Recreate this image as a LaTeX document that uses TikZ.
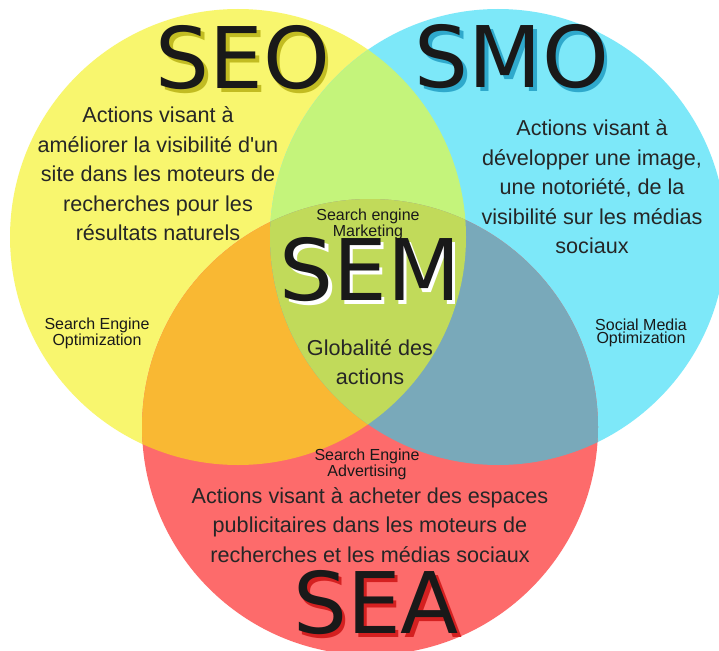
\documentclass[tikz,border=0pt]{standalone}
\usepackage{fontspec}
\setmainfont{Liberation Sans}[Ligatures=TeXOff]
\newfontfamily\sketchfont{DejaVu Sans}
\usetikzlibrary{calc,positioning}

%% circle colours and their overlaps
\definecolor{seoyellow}{HTML}{F8F66E}
\definecolor{smoblue}{HTML}{7DE8F9}
\definecolor{seared}{HTML}{FD6B6B}
\definecolor{seosmo}{HTML}{C4F47B}
\definecolor{seosea}{HTML}{F9B833}
\definecolor{smosea}{HTML}{79A9BA}
\definecolor{semgreen}{HTML}{C1DA5A}
%% shadows behind the big titles
\definecolor{seoshade}{HTML}{C2BC22}
\definecolor{smoshade}{HTML}{2FA9CC}
\definecolor{semshade}{HTML}{FFFFFF}
\definecolor{seashade}{HTML}{D42020}

\tikzset{
  vennbody/.style={font=\fontsize{21.6}{29.5}\selectfont, align=center,
    text=black!85},
  vennsub/.style={font=\fontsize{16}{13.5}\selectfont, align=center,
    text=black!90, inner sep=0pt},
  venntitle/.style={font=\sketchfont\fontsize{85}{85}\selectfont,
    text=black!90, inner sep=0pt},
}
\newcommand{\venntitle}[4]{%
  \node[venntitle, text=#3] at ($(#2)+(3.5,3.5)$) {#4};
  \node[venntitle] (#1) at (#2) {#4};
}

\begin{document}
\begin{tikzpicture}[x=1pt, y=-1pt]
\useasboundingbox (0,0) rectangle (719,650);
\fill[white] (0,0) rectangle (719,650);
\clip (0,0) rectangle (719,650);

\coordinate (cseo) at (238,237);
\coordinate (csmo) at (498,237);
\coordinate (csea) at (370,427);

%% the three discs
\fill[seoyellow] (cseo) circle[radius=228];
\fill[smoblue]   (csmo) circle[radius=228];
\fill[seared]    (csea) circle[radius=228];

%% overlaps
\begin{scope}
  \clip (cseo) circle[radius=228];
  \fill[seosmo] (csmo) circle[radius=228];
  \fill[seosea] (csea) circle[radius=228];
\end{scope}
\begin{scope}
  \clip (csmo) circle[radius=228];
  \fill[smosea] (csea) circle[radius=228];
\end{scope}
\begin{scope}
  \clip (cseo) circle[radius=228];
  \clip (csmo) circle[radius=228];
  \fill[semgreen] (csea) circle[radius=228];
\end{scope}

%% titles
\venntitle{seo}{243,58}{seoshade}{SEO}
\venntitle{smo}{512,57}{smoshade}{SMO}
\venntitle{sem}{370,270}{semshade}{SEM}
\venntitle{sea}{376,603}{seashade}{SEA}

%% descriptions
\node[vennbody] (seotxt) at (158,174) {Actions visant à\\améliorer la visibilité d'un\\site dans les moteurs de\\recherches pour les\\résultats naturels};
\node[vennbody] (smotxt) at (592,187) {Actions visant à\\développer une image,\\une notoriété, de la\\visibilité sur les médias\\sociaux};
\node[vennbody] (seatxt) at (370,525) {Actions visant à acheter des espaces\\publicitaires dans les moteurs de\\recherches et les médias sociaux};
\node[vennbody] (semtxt) at (370,362) {Globalité des\\actions};

%% full names
\node[vennsub] (seoname) at (97,333)  {Search Engine\\Optimization};
\node[vennsub] (smoname) at (641,333) {Social Media\\Optimization};
\node[vennsub] (semname) at (368,224) {Search engine\\Marketing};
\node[vennsub] (seaname) at (367,464) {Search Engine\\Advertising};
\end{tikzpicture}
\end{document}
